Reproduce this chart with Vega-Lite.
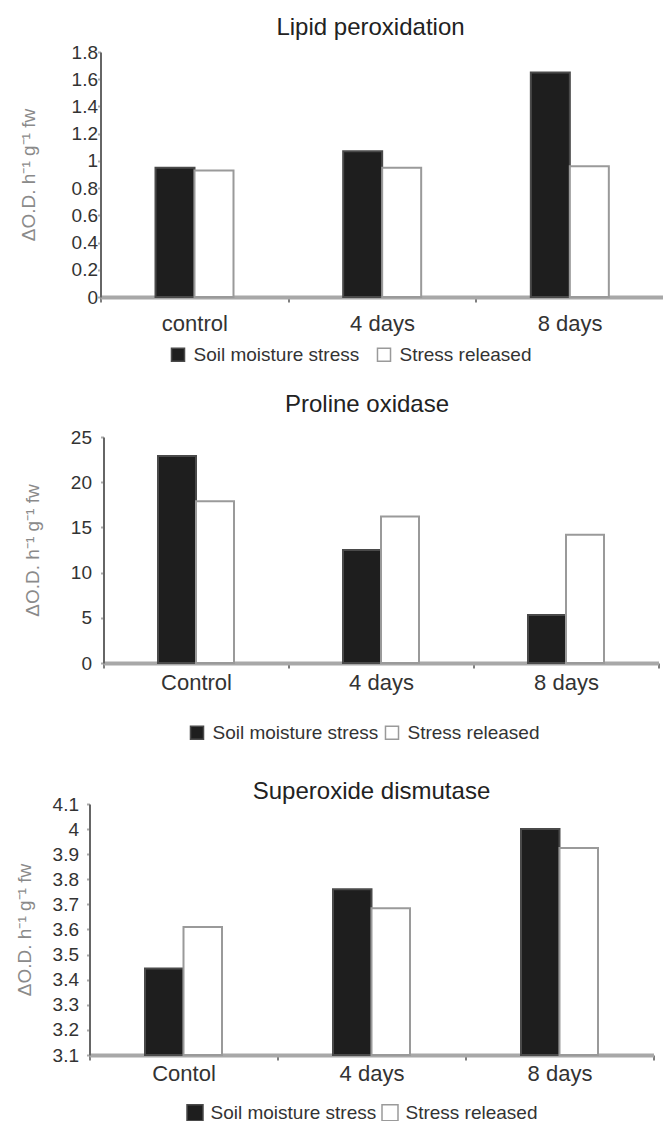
{
  "$schema": "https://vega.github.io/schema/vega-lite/v6.json",
  "padding": {"left": 14.5, "top": 16, "right": 0, "bottom": 0},
  "background": "white",
  "spacing": 28,
  "align": "none",
  "datasets": {
    "lipid": [
      {"group": "control", "series": "Soil moisture stress", "value": 0.95},
      {"group": "control", "series": "Stress released", "value": 0.93},
      {"group": "4 days", "series": "Soil moisture stress", "value": 1.07},
      {"group": "4 days", "series": "Stress released", "value": 0.95},
      {"group": "8 days", "series": "Soil moisture stress", "value": 1.65},
      {"group": "8 days", "series": "Stress released", "value": 0.96}
    ],
    "proline": [
      {"group": "Control", "series": "Soil moisture stress", "value": 22.9},
      {"group": "Control", "series": "Stress released", "value": 17.9},
      {"group": "4 days", "series": "Soil moisture stress", "value": 12.5},
      {"group": "4 days", "series": "Stress released", "value": 16.2},
      {"group": "8 days", "series": "Soil moisture stress", "value": 5.3},
      {"group": "8 days", "series": "Stress released", "value": 14.2}
    ],
    "sod": [
      {"group": "Contol", "series": "Soil moisture stress", "value": 3.445},
      {"group": "Contol", "series": "Stress released", "value": 3.61},
      {"group": "4 days", "series": "Soil moisture stress", "value": 3.76},
      {"group": "4 days", "series": "Stress released", "value": 3.685},
      {"group": "8 days", "series": "Soil moisture stress", "value": 4.0},
      {"group": "8 days", "series": "Stress released", "value": 3.925}
    ]
  },
  "vconcat": [
    {
      "data": {"name": "lipid"},
      "width": 574,
      "height": 245,
      "title": {"text": "Lipid peroxidation", "dx": -6, "offset": 3},
      "mark": {"type": "bar", "strokeWidth": 2},
      "encoding": {
        "x": {"field": "group", "type": "nominal", "sort": null, "scale": {"range": [11, 574], "paddingInner": 0, "paddingOuter": 0}, "axis": {"title": null, "labelPadding": 11}},
        "xOffset": {"field": "series", "type": "nominal", "sort": null, "scale": {"range": [55, 133], "paddingInner": 0, "paddingOuter": 0}},
        "y": {"field": "value", "type": "quantitative", "scale": {"domain": [0, 1.8]},
          "axis": {"values": [0, 0.2, 0.4, 0.6, 0.8, 1, 1.2, 1.4, 1.6, 1.8], "format": "~g", "title": "ΔO.D. h⁻¹ g⁻¹ fw", "offset": -11, "titleX": -72, "tickSize": 3, "labelPadding": 0}},
        "fill": {"field": "series", "type": "nominal", "sort": null, "scale": {"range": ["#1e1e1e", "#ffffff"]},
          "legend": {"orient": "none", "legendX": 79, "legendY": 293, "direction": "horizontal", "title": null, "columnPadding": 14, "symbolSize": 170}},
        "stroke": {"field": "series", "type": "nominal", "sort": null, "scale": {"range": ["#4a4a4a", "#9a9a9a"]},
          "legend": {"orient": "none", "legendX": 79, "legendY": 293, "direction": "horizontal", "title": null, "columnPadding": 14, "symbolSize": 170}}
      }
    },
    {
      "data": {"name": "proline"},
      "width": 569,
      "height": 226,
      "title": {"text": "Proline oxidase", "dx": -7, "offset": 11},
      "mark": {"type": "bar", "strokeWidth": 2},
      "encoding": {
        "x": {"field": "group", "type": "nominal", "sort": null, "scale": {"range": [14, 569], "paddingInner": 0, "paddingOuter": 0}, "axis": {"title": null, "labelPadding": 4}},
        "xOffset": {"field": "series", "type": "nominal", "sort": null, "scale": {"range": [54.5, 130.5], "paddingInner": 0, "paddingOuter": 0}},
        "y": {"field": "value", "type": "quantitative", "scale": {"domain": [0, 25]},
          "axis": {"values": [0, 5, 10, 15, 20, 25], "format": "~g", "title": "ΔO.D. h⁻¹ g⁻¹ fw", "offset": -14, "titleX": -71, "tickSize": 3, "labelPadding": 9}},
        "fill": {"field": "series", "type": "nominal", "sort": null, "scale": {"range": ["#1e1e1e", "#ffffff"]},
          "legend": {"orient": "none", "legendX": 89, "legendY": 277, "padding": 9, "direction": "horizontal", "title": null, "columnPadding": 3, "symbolSize": 170}},
        "stroke": {"field": "series", "type": "nominal", "sort": null, "scale": {"range": ["#4a4a4a", "#9a9a9a"]},
          "legend": {"orient": "none", "legendX": 89, "legendY": 277, "padding": 9, "direction": "horizontal", "title": null, "columnPadding": 3, "symbolSize": 170}}
      }
    },
    {
      "data": {"name": "sod"},
      "width": 564,
      "height": 251,
      "title": {"text": "Superoxide dismutase", "dx": 0, "offset": -9},
      "mark": {"type": "bar", "strokeWidth": 2},
      "encoding": {
        "x": {"field": "group", "type": "nominal", "sort": null, "scale": {"paddingInner": 0, "paddingOuter": 0}, "axis": {"title": null, "labelPadding": 3}},
        "xOffset": {"field": "series", "type": "nominal", "sort": null, "scale": {"range": [55.5, 132.5], "paddingInner": 0, "paddingOuter": 0}},
        "y": {"field": "value", "type": "quantitative", "scale": {"domain": [3.1, 4.1], "zero": false},
          "axis": {"values": [3.1, 3.2, 3.3, 3.4, 3.5, 3.6, 3.7, 3.8, 3.9, 4, 4.1], "format": "~g", "title": "ΔO.D. h⁻¹ g⁻¹ fw", "titleX": -65, "tickSize": 3, "labelPadding": 8}},
        "y2": {"datum": 3.1},
        "fill": {"field": "series", "type": "nominal", "sort": null, "scale": {"range": ["#1e1e1e", "#ffffff"]},
          "legend": {"orient": "none", "legendX": 96, "legendY": 299, "direction": "horizontal", "title": null, "columnPadding": 2, "symbolSize": 256}},
        "stroke": {"field": "series", "type": "nominal", "sort": null, "scale": {"range": ["#4a4a4a", "#9a9a9a"]},
          "legend": {"orient": "none", "legendX": 96, "legendY": 299, "direction": "horizontal", "title": null, "columnPadding": 2, "symbolSize": 256}}
      }
    }
  ],
  "resolve": {
    "scale": {"x": "independent", "y": "independent", "xOffset": "independent", "fill": "independent", "stroke": "independent"},
    "legend": {"fill": "independent", "stroke": "independent"}
  },
  "config": {
    "font": "Liberation Sans",
    "view": {"stroke": null},
    "title": {"fontSize": 24, "fontWeight": "normal", "color": "#222222", "anchor": "middle"},
    "axisX": {
      "labelAngle": 0, "labelFontSize": 22, "labelColor": "#333333",
      "domainColor": "#a8a8a8", "domainWidth": 4,
      "tickColor": "#555555", "tickWidth": 1.5, "tickSize": 5, "tickBand": "extent",
      "grid": false
    },
    "axisY": {
      "labelFontSize": 19, "labelColor": "#333333",
      "domainColor": "#666666", "domainWidth": 2,
      "tickColor": "#aaaaaa", "tickWidth": 2,
      "grid": false,
      "titleFontSize": 19, "titleFontWeight": "normal", "titleColor": "#8a8a8a", "titleBaseline": "middle"
    },
    "legend": {
      "labelFontSize": 19, "labelColor": "#333333", "symbolType": "square", "symbolStrokeWidth": 1.5,
      "labelOffset": 6, "padding": 0, "labelLimit": 400
    }
  }
}
